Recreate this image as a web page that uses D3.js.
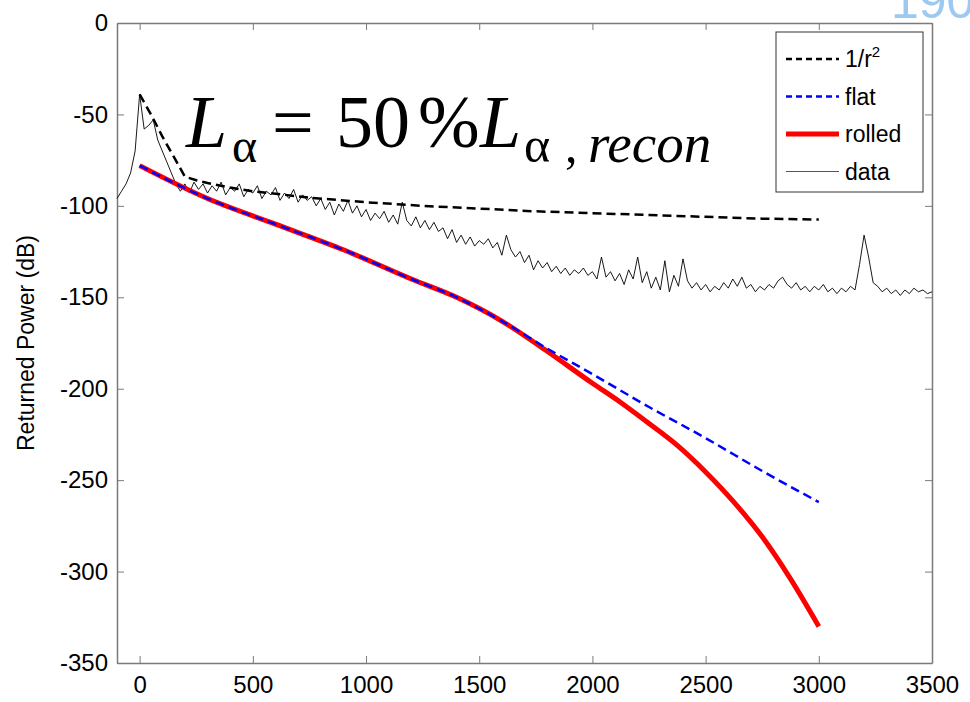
<!DOCTYPE html>
<html>
<head>
<meta charset="utf-8">
<title>Returned Power</title>
<script src="https://cdn.jsdelivr.net/npm/d3@7"></script>
<style>
  body { margin: 0; background: #fff; }
  svg { display: block; }
  .tick text { font-family: Arial, "Liberation Sans", sans-serif; font-size: 24px; fill: #000; }
</style>
</head>
<body>
<svg id="chart"></svg>
<script>

// range gates of the measured profile
var dataStart = -100;
var dataStep = 20;
var dataValues = [
  -96, -92, -88, -82, -70, -39, -58, -56, -53, -64,
  -70, -76, -82, -88, -92, -88, -93, -87, -91, -88,
  -93, -89, -92, -87, -94, -90, -92, -88, -95, -91,
  -93, -89, -96, -92, -94, -90, -97, -93, -96, -91,
  -98, -94, -97, -95, -100, -96, -102, -98, -105, -99,
  -103, -97, -104, -100, -106, -102, -108, -104, -107, -103,
  -109, -105, -110, -98, -108, -111, -106, -112, -108, -113,
  -109, -114, -112, -118, -113, -120, -116, -121, -117, -122,
  -119, -121, -118, -123, -120, -127, -116, -124, -128, -125,
  -131, -127, -135, -130, -134, -131, -136, -133, -137, -134,
  -138, -135, -137, -134, -138, -136, -140, -128, -139, -136,
  -141, -137, -143, -135, -140, -128, -142, -136, -145, -139,
  -146, -130, -147, -138, -144, -129, -141, -145, -142, -146,
  -143, -147, -144, -146, -142, -145, -140, -144, -139, -145,
  -143, -147, -144, -146, -143, -145, -141, -139, -143, -145,
  -142, -146, -144, -147, -144, -146, -143, -147, -145, -148,
  -145, -147, -144, -146, -132, -116, -128, -142, -144, -147,
  -145, -148, -146, -149, -146, -148, -145, -147, -146, -148,
  -147
];

// model curves
var invR2X = [0, 50, 100, 150, 200, 250, 300, 400, 500, 750, 1000, 1250, 1500, 1750, 2000, 2250, 2500, 2750, 3000];
var invR2Y = [-39, -50, -62, -73, -84, -86, -87.5, -90, -92, -95.5, -98, -100, -101.5, -103, -104, -105, -106, -107, -107.5];

var flatX = [0, 300, 600, 900, 1200, 1400, 1600, 1800, 2000, 2250, 2500, 2750, 3000];
var flatY = [-78, -96, -110, -124, -140, -150, -163, -178, -192, -210, -227, -245, -262];

var rolledX = [0, 300, 600, 900, 1200, 1400, 1600, 1800, 2000, 2125, 2250, 2375, 2500, 2625, 2750, 2875, 3000];
var rolledY = [-78, -96, -110, -124, -140, -150, -163, -179.5, -197, -207.5, -219, -231, -245.5, -262, -281, -304, -330];

var xTicks = [0, 500, 1000, 1500, 2000, 2500, 3000, 3500];
var yTicks = [0, -50, -100, -150, -200, -250, -300, -350];

var legendNames = ["1/r", "flat", "rolled", "data"];

var width = 970, height = 702;
var plotL = 117, plotR = 932, plotT = 23, plotB = 663;

var svg = d3.select("#chart").attr("width", width).attr("height", height);

var x = d3.scaleLinear().domain([-100, 3500]).range([plotL, plotR]);
var y = d3.scaleLinear().domain([-350, 0]).range([plotB, plotT]);

var axisColor = "#7a7a7a";
var fmt = function(d) { return String(d); };

// axes: box with inward ticks
var gx = svg.append("g").attr("transform", "translate(0," + plotB + ")")
    .call(d3.axisBottom(x).tickValues(xTicks).tickFormat(fmt).tickSizeInner(-7).tickSizeOuter(0).tickPadding(13));
svg.append("g").attr("transform", "translate(0," + plotT + ")")
    .call(d3.axisTop(x).tickValues(xTicks).tickSizeInner(-7).tickSizeOuter(0).tickFormat(""));
svg.append("g").attr("transform", "translate(" + plotL + ",0)")
    .call(d3.axisLeft(y).tickValues(yTicks).tickFormat(fmt).tickSizeInner(-7).tickSizeOuter(0).tickPadding(9));
svg.append("g").attr("transform", "translate(" + plotR + ",0)")
    .call(d3.axisRight(y).tickValues(yTicks).tickSizeInner(-7).tickSizeOuter(0).tickFormat(""));

svg.selectAll(".domain").attr("stroke", axisColor).attr("stroke-width", 1.5);
svg.selectAll(".tick line").attr("stroke", axisColor).attr("stroke-width", 1);
gx.selectAll(".tick text").attr("dy", "0.72em");

// y label
svg.append("text")
    .attr("transform", "translate(34," + ((plotT + plotB) / 2) + ") rotate(-90)")
    .attr("text-anchor", "middle")
    .style("font-family", "Arial, 'Liberation Sans', sans-serif")
    .style("font-size", "23px")
    .text("Returned Power (dB)");

var line = d3.line().x(function(d) { return x(d[0]); }).y(function(d) { return y(d[1]); });
var smooth = d3.line().curve(d3.curveMonotoneX)
    .x(function(d) { return x(d[0]); }).y(function(d) { return y(d[1]); });

var dataPts = dataValues.map(function(v, i) { return [dataStart + i * dataStep, v]; });
var invR2Pts = invR2X.map(function(v, i) { return [v, invR2Y[i]]; });
var flatPts = flatX.map(function(v, i) { return [v, flatY[i]]; });
var rolledPts = rolledX.map(function(v, i) { return [v, rolledY[i]]; });

svg.append("path").datum(dataPts).attr("d", line)
    .attr("fill", "none").attr("stroke", "#000").attr("stroke-width", 0.9);

svg.append("path").datum(invR2Pts).attr("d", line)
    .attr("fill", "none").attr("stroke", "#000").attr("stroke-width", 2.5)
    .attr("stroke-dasharray", "9,5");

svg.append("path").datum(rolledPts).attr("d", smooth)
    .attr("fill", "none").attr("stroke", "#ff0000").attr("stroke-width", 5);

svg.append("path").datum(flatPts).attr("d", smooth)
    .attr("fill", "none").attr("stroke", "#0000ff").attr("stroke-width", 2.5)
    .attr("stroke-dasharray", "9,5");

// big annotation  L_alpha = 50 % L_alpha,recon
var serif = "'Times New Roman', 'Liberation Serif', serif";
var ann = svg.append("g").style("font-family", serif).style("fill", "#000");
ann.append("text").attr("x", 186).attr("y", 147).style("font-size", "74px").style("font-style", "italic").text("L");
ann.append("text").attr("x", 232).attr("y", 162).style("font-size", "48px").text("\u03b1");
ann.append("text").attr("x", 272).attr("y", 147).style("font-size", "74px").text("=");
ann.append("text").attr("x", 336).attr("y", 147).style("font-size", "74px").text("50");
ann.append("text").attr("x", 418).attr("y", 147).style("font-size", "74px").text("%");
ann.append("text").attr("x", 480).attr("y", 147).style("font-size", "74px").style("font-style", "italic").text("L");
ann.append("text").attr("x", 524).attr("y", 162).style("font-size", "50px").text("\u03b1");
ann.append("text").attr("x", 565).attr("y", 162).style("font-size", "50px").text(",");
ann.append("text").attr("x", 588).attr("y", 162).style("font-size", "55px").style("font-style", "italic").text("recon");

// legend
var lg = svg.append("g");
lg.append("rect").attr("x", 776).attr("y", 32).attr("width", 147).attr("height", 160)
    .attr("fill", "#fff").attr("stroke", "#333").attr("stroke-width", 1);
var legStyles = [
  { stroke: "#000", w: 2.5, dash: "6,4" },
  { stroke: "#0000ff", w: 2.5, dash: "6,4" },
  { stroke: "#ff0000", w: 5, dash: null },
  { stroke: "#555", w: 1.2, dash: null }
];
legendNames.forEach(function(name, i) {
  var yy = 59 + i * 37.5;
  lg.append("line").attr("x1", 786).attr("x2", 839).attr("y1", yy).attr("y2", yy)
      .attr("stroke", legStyles[i].stroke).attr("stroke-width", legStyles[i].w)
      .attr("stroke-dasharray", legStyles[i].dash);
  var t = lg.append("text").attr("x", 845).attr("y", yy + 8)
      .style("font-family", "Arial, 'Liberation Sans', sans-serif").style("font-size", "23px")
      .text(name);
  if (i === 0) t.append("tspan").attr("dy", -10).style("font-size", "15px").text("2");
});

// slide number fragment at top right
svg.append("text").attr("x", 891).attr("y", 18)
    .style("font-family", "Arial, 'Liberation Sans', sans-serif").style("font-size", "50px")
    .style("fill", "#9cc9f2").text("190");

</script>
</body>
</html>
